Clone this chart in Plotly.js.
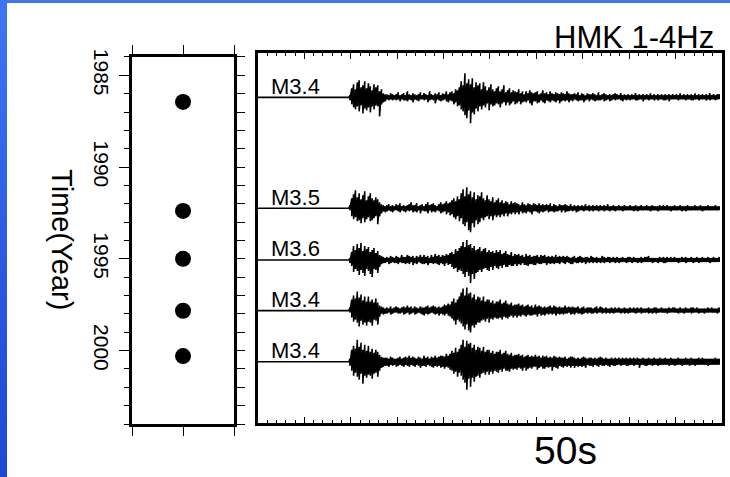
<!DOCTYPE html>
<html>
<head>
<meta charset="utf-8">
<script src="https://cdn.plot.ly/plotly-3.0.1.min.js"></script>
<style>
  html, body { margin: 0; padding: 0; }
  body {
    width: 730px; height: 477px; overflow: hidden; position: relative;
    background: linear-gradient(180deg, #3d76f3 0%, #2a58dc 60%, #1f48d0 100%);
  }
  #chart { position: absolute; left: 7px; top: 3px; width: 723px; height: 474px; background: #fff; }
</style>
</head>
<body>
<div id="chart"></div>
<script>
// Event catalogue (left panel): year of each event and its magnitude label
const eventYear = [1986.45, 1992.39, 1995.0, 1997.83, 2000.3];
const magnitude = ['M3.4', 'M3.5', 'M3.6', 'M3.4', 'M3.4'];
const yearTicks = [1985, 1990, 1995, 2000];

// Row (in years) where each seismogram is drawn in the record section
const traceRow = [1986.21, 1992.24, 1995.05, 1997.80, 2000.58];

// Record timing: flat line before the onset, then one max/min pair per BIN seconds
const T_ON = 9.9;      // onset time, s
const BIN = 0.2;       // width of a max/min bin, s
const GAIN = 0.0543;   // years of vertical offset per amplitude unit

// 1-4 Hz filtered records as max,min pairs; one line per second after onset
const wave1986 = [
  2,-3, 9,-7, 13,-10, 8,-12, 15,-9,
  17,-14, 10,-8, 12,-16, 16,-11, 9,-13,
  14,-10, 11,-15, 7,-9, 13,-12, 10,-8,
  12,-9, 6,-19, 8,-7, 4,-5, 3,-4,
  3,-2, 2,-3, 4,-2, 3,-3, 2,-2,
  3,-3, 5,-2, 2,-4, 3,-2, 4,-3,
  2,-3, 6,-4, 3,-2, 2,-3, 4,-5,
  3,-2, 2,-3, 3,-4, 5,-2, 2,-2,
  4,-3, 3,-2, 2,-5, 6,-3, 3,-2,
  2,-3, 4,-6, 3,-2, 5,-3, 2,-4,
  4,-3, 3,-2, 6,-4, 3,-5, 5,-3,
  6,-4, 4,-7, 8,-5, 7,-9, 10,-8,
  16,-12, 12,-14, 24,-18, 14,-21, 18,-13,
  13,-26, 19,-15, 10,-17, 15,-11, 12,-14,
  14,-9, 8,-12, 15,-8, 11,-10, 7,-6,
  10,-13, 13,-7, 8,-9, 6,-8, 9,-6,
  11,-7, 6,-10, 8,-6, 12,-5, 5,-8,
  7,-5, 9,-8, 5,-6, 7,-4, 6,-7,
  5,-6, 8,-4, 4,-7, 6,-5, 3,-4,
  6,-5, 4,-3, 7,-6, 5,-8, 4,-4,
  5,-4, 6,-6, 3,-5, 4,-3, 7,-5,
  4,-6, 5,-3, 3,-4, 6,-5, 4,-3,
  3,-4, 5,-5, 4,-3, 3,-6, 5,-4,
  4,-3, 3,-4, 6,-3, 4,-5, 3,-3,
  3,-4, 4,-2, 3,-3, 5,-4, 2,-3,
  4,-3, 3,-5, 2,-3, 4,-2, 3,-4,
  3,-2, 4,-3, 3,-4, 2,-3, 5,-3,
  2,-3, 3,-2, 4,-4, 3,-3, 2,-2,
  3,-4, 2,-3, 3,-2, 4,-3, 3,-2,
  2,-2, 4,-3, 2,-4, 3,-2, 2,-3,
  3,-2, 2,-3, 3,-2, 2,-2, 4,-3,
  2,-3, 3,-2, 2,-2, 3,-4, 2,-2,
  3,-2, 2,-3, 4,-2, 2,-2, 3,-3,
  2,-2, 3,-3, 2,-2, 3,-2, 2,-3,
  3,-3, 2,-2, 3,-4, 2,-2, 3,-2,
  2,-2, 3,-2, 2,-3, 4,-2, 2,-2,
  3,-2, 2,-3, 3,-2, 2,-2, 3,-3,
  2,-3, 4,-2, 2,-2, 3,-3, 2,-2,
  3,-2, 2,-2, 3,-3, 2,-2, 4,-3,
  2,-2, 3,-2, 2,-3, 3,-2, 3,-2
];
const wave1992 = [
  3,-2, 10,-8, 14,-11, 18,-9, 11,-13,
  15,-12, 9,-15, 13,-10, 17,-14, 8,-11,
  12,-9, 15,-13, 10,-12, 8,-10, 11,-8,
  9,-16, 6,-8, 4,-5, 3,-3, 2,-4,
  3,-3, 4,-2, 2,-3, 3,-4, 2,-2,
  4,-2, 3,-3, 5,-4, 2,-2, 3,-3,
  2,-4, 3,-2, 4,-3, 6,-2, 3,-4,
  3,-3, 5,-4, 2,-2, 3,-5, 4,-2,
  2,-3, 4,-3, 6,-5, 3,-2, 4,-4,
  5,-3, 3,-4, 2,-2, 4,-3, 6,-5,
  4,-4, 5,-3, 7,-6, 5,-4, 6,-7,
  8,-6, 10,-9, 7,-11, 12,-8, 9,-13,
  15,-10, 19,-16, 12,-18, 21,-14, 14,-22,
  17,-24, 11,-15, 16,-19, 9,-12, 13,-16,
  12,-14, 16,-10, 10,-12, 8,-9, 13,-8,
  9,-11, 7,-8, 11,-12, 6,-7, 8,-9,
  10,-7, 6,-9, 8,-6, 5,-8, 7,-5,
  6,-8, 4,-5, 7,-6, 5,-4, 6,-6,
  5,-4, 4,-6, 3,-3, 6,-5, 4,-4,
  3,-5, 5,-3, 4,-4, 3,-6, 5,-3,
  4,-3, 3,-4, 5,-5, 3,-3, 4,-4,
  3,-3, 4,-2, 3,-4, 5,-3, 2,-3,
  4,-4, 3,-3, 2,-3, 4,-2, 3,-4,
  3,-2, 4,-4, 3,-3, 2,-3, 4,-2,
  2,-3, 3,-2, 2,-4, 3,-3, 2,-2,
  3,-2, 2,-3, 4,-2, 2,-2, 3,-3,
  2,-2, 3,-3, 2,-2, 3,-2, 2,-3,
  3,-2, 2,-2, 3,-3, 2,-2, 4,-2,
  2,-3, 2,-2, 3,-2, 2,-3, 2,-2,
  3,-2, 2,-2, 2,-3, 3,-2, 2,-2,
  2,-2, 3,-2, 2,-2, 2,-3, 3,-2,
  2,-3, 2,-2, 3,-2, 2,-2, 2,-2,
  3,-2, 2,-2, 2,-3, 3,-2, 2,-2,
  2,-2, 2,-3, 3,-2, 2,-2, 3,-2,
  2,-2, 3,-2, 2,-2, 2,-3, 2,-2,
  3,-2, 2,-2, 2,-2, 3,-2, 2,-3,
  2,-2, 2,-3, 3,-2, 2,-2, 2,-2,
  2,-2, 3,-2, 2,-2, 2,-2, 3,-2,
  2,-3, 2,-2, 2,-2, 3,-2, 2,-2,
  2,-2, 2,-2, 3,-2, 2,-2, 2,-2
];
const wave1995 = [
  2,-3, 8,-6, 14,-12, 10,-9, 16,-11,
  12,-15, 17,-10, 9,-13, 14,-16, 11,-9,
  13,-11, 8,-14, 10,-17, 12,-9, 7,-10,
  9,-13, 5,-7, 4,-4, 3,-3, 2,-3,
  3,-2, 2,-4, 4,-3, 3,-2, 2,-3,
  4,-3, 3,-4, 2,-2, 5,-3, 3,-3,
  3,-4, 5,-3, 4,-4, 3,-2, 4,-5,
  2,-3, 4,-4, 3,-2, 5,-3, 3,-4,
  5,-4, 3,-3, 4,-5, 2,-3, 5,-3,
  3,-4, 6,-3, 4,-4, 5,-5, 3,-3,
  5,-4, 4,-6, 6,-3, 5,-5, 7,-4,
  8,-7, 6,-9, 11,-8, 9,-12, 12,-10,
  14,-11, 18,-14, 13,-17, 20,-12, 15,-16,
  16,-23, 12,-14, 14,-19, 10,-13, 11,-12,
  13,-10, 9,-12, 11,-9, 12,-8, 8,-10,
  10,-11, 8,-7, 9,-10, 7,-6, 10,-8,
  8,-9, 10,-6, 6,-8, 7,-5, 9,-7,
  6,-7, 5,-5, 8,-6, 4,-6, 6,-4,
  5,-6, 6,-4, 4,-5, 5,-3, 3,-5,
  6,-5, 4,-6, 5,-4, 3,-4, 4,-5,
  4,-5, 5,-3, 3,-4, 5,-4, 4,-3,
  5,-3, 3,-5, 4,-3, 3,-4, 4,-3,
  3,-4, 5,-3, 3,-3, 4,-4, 3,-2,
  4,-3, 3,-4, 4,-2, 3,-3, 2,-4,
  3,-4, 4,-2, 2,-3, 3,-3, 4,-2,
  3,-3, 2,-2, 3,-4, 3,-2, 2,-3,
  4,-2, 3,-3, 2,-2, 3,-3, 2,-2,
  2,-3, 4,-2, 3,-3, 2,-2, 3,-2,
  3,-3, 2,-2, 3,-2, 2,-3, 3,-2,
  2,-3, 2,-2, 3,-2, 2,-2, 2,-3,
  3,-2, 3,-2, 2,-3, 3,-2, 2,-2,
  2,-3, 2,-2, 3,-3, 2,-2, 3,-2,
  3,-2, 4,-2, 2,-2, 2,-3, 2,-2,
  2,-2, 2,-3, 3,-2, 2,-2, 3,-3,
  2,-3, 3,-2, 2,-2, 3,-2, 2,-2,
  3,-2, 2,-2, 2,-3, 2,-2, 3,-2,
  2,-2, 3,-3, 2,-2, 2,-2, 3,-2,
  2,-3, 2,-2, 3,-2, 2,-3, 2,-2,
  3,-2, 2,-2, 2,-2, 3,-2, 2,-3,
  2,-2, 3,-2, 2,-2, 2,-2, 3,-2
];
const wave1997 = [
  3,-2, 11,-7, 15,-11, 12,-9, 19,-12,
  13,-16, 16,-10, 10,-14, 14,-12, 9,-15,
  14,-11, 9,-12, 11,-15, 8,-9, 12,-10,
  8,-14, 5,-6, 4,-3, 3,-4, 2,-3,
  3,-3, 2,-2, 4,-4, 2,-3, 3,-2,
  4,-2, 3,-3, 2,-3, 3,-2, 4,-4,
  3,-3, 5,-2, 3,-4, 4,-3, 2,-2,
  4,-4, 3,-3, 2,-2, 4,-3, 3,-4,
  3,-5, 4,-3, 5,-4, 3,-3, 4,-2,
  5,-3, 4,-4, 3,-3, 4,-5, 3,-3,
  4,-4, 6,-5, 5,-3, 7,-5, 6,-6,
  9,-8, 12,-10, 8,-14, 11,-9, 14,-11,
  18,-13, 22,-16, 15,-19, 23,-14, 17,-20,
  18,-22, 13,-15, 16,-17, 11,-14, 14,-12,
  13,-12, 10,-10, 14,-9, 9,-11, 11,-8,
  11,-12, 8,-8, 10,-9, 7,-7, 9,-8,
  9,-8, 11,-7, 7,-9, 8,-6, 10,-7,
  7,-8, 6,-6, 8,-5, 5,-7, 6,-5,
  6,-7, 7,-5, 5,-6, 6,-4, 4,-5,
  5,-6, 6,-4, 4,-5, 5,-5, 3,-4,
  6,-4, 4,-6, 5,-3, 4,-5, 3,-4,
  4,-5, 3,-3, 4,-4, 5,-3, 3,-4,
  5,-3, 4,-5, 3,-3, 4,-4, 3,-3,
  3,-4, 5,-3, 3,-3, 4,-2, 3,-4,
  4,-3, 3,-4, 3,-2, 4,-3, 2,-3,
  3,-4, 4,-3, 2,-2, 3,-3, 3,-2,
  3,-3, 2,-3, 3,-2, 4,-3, 2,-2,
  4,-2, 3,-3, 2,-2, 3,-3, 2,-2,
  2,-3, 3,-2, 2,-3, 3,-2, 2,-2,
  3,-2, 2,-3, 2,-2, 3,-3, 2,-2,
  2,-3, 3,-2, 2,-2, 3,-2, 2,-3,
  3,-2, 2,-2, 3,-3, 2,-2, 2,-2,
  2,-2, 3,-3, 2,-2, 2,-3, 3,-2,
  3,-3, 2,-2, 2,-2, 3,-2, 2,-2,
  2,-2, 2,-3, 3,-2, 2,-2, 3,-2,
  3,-2, 2,-2, 2,-3, 3,-2, 2,-2,
  2,-3, 3,-2, 2,-2, 2,-2, 3,-3,
  3,-2, 2,-2, 3,-2, 2,-3, 2,-2,
  2,-2, 2,-3, 2,-2, 3,-2, 2,-2,
  3,-2, 2,-2, 2,-2, 2,-3, 3,-2
];
const wave2000 = [
  3,-4, 12,-9, 16,-14, 13,-11, 22,-15,
  15,-18, 19,-12, 12,-22, 17,-14, 11,-16,
  16,-13, 10,-14, 13,-17, 9,-12, 12,-11,
  10,-15, 7,-9, 5,-6, 4,-5, 4,-4,
  4,-4, 3,-5, 5,-3, 4,-4, 3,-3,
  3,-5, 4,-4, 5,-3, 3,-4, 4,-5,
  5,-3, 4,-4, 6,-5, 4,-3, 5,-4,
  4,-5, 3,-3, 5,-4, 4,-6, 3,-4,
  6,-4, 4,-5, 5,-3, 3,-4, 5,-5,
  4,-6, 6,-4, 4,-5, 5,-4, 6,-6,
  6,-5, 5,-7, 8,-5, 6,-6, 8,-8,
  11,-9, 9,-12, 14,-10, 10,-15, 13,-11,
  17,-14, 22,-18, 15,-21, 21,-28, 18,-17,
  19,-25, 14,-16, 17,-20, 12,-15, 15,-14,
  14,-16, 11,-12, 15,-11, 10,-13, 12,-10,
  12,-13, 9,-10, 11,-12, 8,-9, 10,-10,
  10,-11, 12,-8, 8,-10, 9,-7, 11,-9,
  8,-9, 7,-10, 9,-7, 6,-8, 7,-7,
  7,-8, 8,-6, 6,-7, 7,-9, 5,-6,
  6,-9, 7,-7, 5,-6, 6,-7, 5,-5,
  7,-5, 5,-8, 6,-6, 4,-5, 6,-7,
  5,-7, 6,-5, 4,-6, 5,-5, 4,-9,
  6,-5, 5,-6, 4,-7, 5,-4, 4,-5,
  4,-6, 5,-4, 3,-5, 4,-4, 5,-6,
  5,-4, 4,-6, 3,-4, 4,-5, 3,-4,
  4,-5, 5,-4, 4,-6, 3,-3, 4,-4,
  4,-4, 3,-5, 4,-3, 3,-4, 4,-5,
  5,-3, 4,-4, 3,-4, 4,-3, 3,-4,
  3,-5, 4,-3, 3,-4, 4,-4, 3,-3,
  4,-3, 3,-4, 4,-3, 3,-3, 4,-4,
  3,-4, 4,-3, 3,-3, 4,-4, 3,-3,
  4,-3, 3,-6, 3,-3, 4,-3, 3,-4,
  3,-4, 4,-3, 3,-3, 3,-4, 4,-3,
  3,-3, 3,-4, 4,-3, 3,-3, 3,-3,
  4,-3, 3,-3, 3,-4, 4,-3, 3,-3,
  3,-4, 3,-3, 4,-3, 3,-3, 3,-4,
  3,-3, 4,-3, 3,-3, 3,-4, 4,-3,
  3,-3, 3,-4, 3,-3, 4,-3, 3,-3,
  4,-3, 3,-3, 3,-3, 3,-4, 3,-3,
  3,-3, 3,-3, 4,-3, 3,-3, 3,-3
];
const waves = [wave1986, wave1992, wave1995, wave1997, wave2000];

const FONT = 'Liberation Sans, Arial, Helvetica, sans-serif';
const traces = [];

// Left panel: event occurrence times
traces.push({
  type: 'scatter', mode: 'markers', xaxis: 'x', yaxis: 'y',
  x: eventYear.map(() => 1), y: eventYear,
  marker: { size: 16, color: '#000' }, hoverinfo: 'y'
});

// Right panel: record section, each bin drawn as a max-to-min stroke
waves.forEach((amp, k) => {
  const t = [0, T_ON - 0.1], y = [traceRow[k], traceRow[k]];
  amp.forEach((a, i) => {
    t.push(T_ON + Math.floor(i / 2) * BIN);
    y.push(traceRow[k] - a * GAIN);
  });
  traces.push({
    type: 'scatter', mode: 'lines', xaxis: 'x2', yaxis: 'y2',
    x: t, y: y, line: { color: '#000', width: 1.6 }, hoverinfo: 'skip'
  });
});

const annotations = magnitude.map((m, k) => ({
  xref: 'x2', yref: 'y2', x: 1.2, y: traceRow[k], yshift: 11,
  xanchor: 'left', yanchor: 'middle', showarrow: false,
  text: m, font: { family: FONT, size: 22, color: '#000' }
}));
annotations.push(
  { xref: 'paper', yref: 'paper', x: 0.981, y: 0.928, xanchor: 'right', yanchor: 'middle',
    showarrow: false, text: 'HMK 1-4Hz', font: { family: FONT, size: 31, color: '#000' } },
  { xref: 'paper', yref: 'paper', x: 0.772, y: 0.055, xanchor: 'center', yanchor: 'middle',
    showarrow: false, text: '50s', font: { family: FONT, size: 39, color: '#000' } },
  { xref: 'paper', yref: 'paper', x: 0.076, y: 0.5, xanchor: 'center', yanchor: 'middle',
    showarrow: false, textangle: 90, text: 'Time(Year)', font: { family: FONT, size: 29, color: '#000' } }
);

const frame = { showline: true, linewidth: 3, linecolor: '#000', showgrid: false, zeroline: false, fixedrange: true };

const layout = {
  width: 723, height: 474,
  margin: { l: 0, r: 0, t: 0, b: 0 },
  paper_bgcolor: '#fff', plot_bgcolor: '#fff',
  showlegend: false,
  font: { family: FONT, color: '#000' },
  xaxis: Object.assign({}, frame, {
    domain: [0.1729, 0.3140], range: [0, 2], anchor: 'y',
    tick0: 0, dtick: 1, ticks: 'outside', ticklen: 9, tickwidth: 1, tickcolor: '#000',
    showticklabels: false, mirror: 'ticks'
  }),
  yaxis: Object.assign({}, frame, {
    domain: [0.1118, 0.8861], range: [2004, 1984], anchor: 'x', mirror: true,
    tickvals: yearTicks, ticktext: yearTicks.map(String),
    ticks: 'outside', ticklen: 10, tickwidth: 1, tickcolor: '#000',
    tickangle: 90, tickfont: { family: FONT, size: 21, color: '#000' },
    minor: { tick0: 1984, dtick: 1, ticks: 'outside', ticklen: 5, tickwidth: 1, tickcolor: '#000', showgrid: false }
  }),
  yaxis3: {
    overlaying: 'y', side: 'right', anchor: 'x', range: [2004, 1984],
    tick0: 1984, dtick: 1, ticks: 'outside', ticklen: 10, tickwidth: 1, tickcolor: '#000',
    showticklabels: false, showline: false, showgrid: false, zeroline: false, fixedrange: true
  },
  xaxis2: Object.assign({}, frame, {
    domain: [0.3472, 0.9889], range: [0, 50], anchor: 'y2',
    tick0: 0, dtick: 5, ticks: 'inside', ticklen: 6, tickwidth: 1, tickcolor: '#000',
    minor: { dtick: 1, ticks: 'inside', ticklen: 3, tickwidth: 1, tickcolor: '#000', showgrid: false },
    showticklabels: false, mirror: 'ticks'
  }),
  yaxis2: Object.assign({}, frame, {
    domain: [0.1139, 0.8945], range: [2003.91, 1983.80], anchor: 'x2',
    mirror: true, ticks: '', showticklabels: false
  }),
  annotations: annotations
};

// empty trace bound to the right-hand tick axis so that it is drawn
traces.push({ type: 'scatter', mode: 'markers', xaxis: 'x', yaxis: 'y3', x: [], y: [], hoverinfo: 'skip' });

Plotly.newPlot('chart', traces, layout, { displayModeBar: false, staticPlot: true });
</script>
</body>
</html>
